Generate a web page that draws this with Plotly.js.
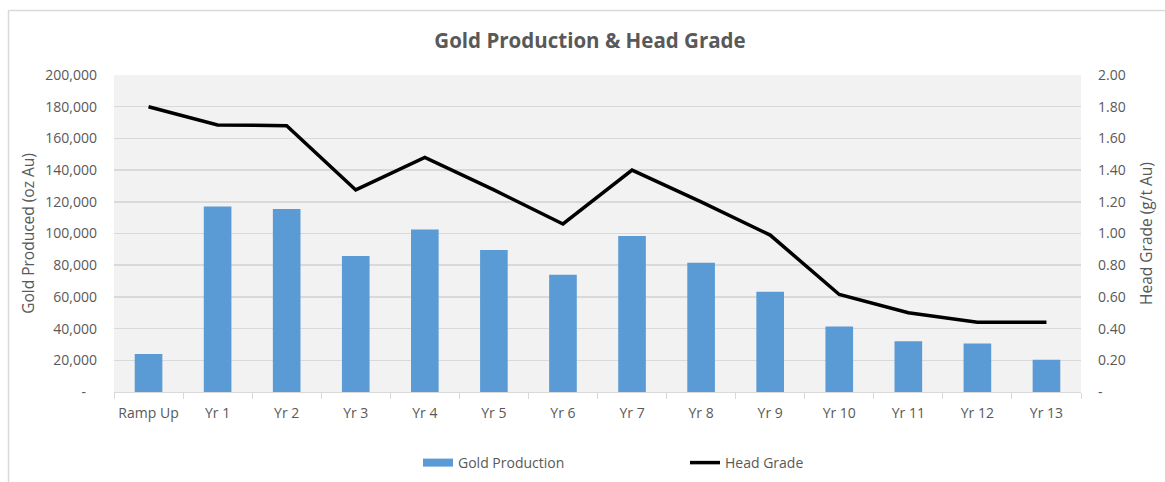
<!DOCTYPE html>
<html>
<head>
<meta charset="utf-8">
<script src="https://cdn.plot.ly/plotly-3.0.1.min.js"></script>
<style>
html,body{margin:0;padding:0;background:#fff;}
#chart{width:1165px;height:482px;}
</style>
</head>
<body>
<div id="chart"></div>
<script>
const categories = ["Ramp Up","Yr 1","Yr 2","Yr 3","Yr 4","Yr 5","Yr 6","Yr 7","Yr 8","Yr 9","Yr 10","Yr 11","Yr 12","Yr 13"];
const goldProduction = [24000,117000,115500,85800,102500,89600,74000,98400,81600,63300,41300,32000,30600,20300];
const headGrade = [1.80,1.685,1.68,1.275,1.48,1.275,1.06,1.40,1.20,0.99,0.615,0.50,0.44,0.44];
const leftTicks = [0,20000,40000,60000,80000,100000,120000,140000,160000,180000,200000];
const leftTickText = ["-\u00a0\u00a0\u00a0","20,000","40,000","60,000","80,000","100,000","120,000","140,000","160,000","180,000","200,000"];
const rightTicks = [0,0.2,0.4,0.6,0.8,1.0,1.2,1.4,1.6,1.8,2.0];
const rightTickText = ["-","0.20","0.40","0.60","0.80","1.00","1.20","1.40","1.60","1.80","2.00"];

const font = "Open Sans, Liberation Sans, sans-serif";
const grey = "#595959";
const barColor = "#5b9bd5";

const data = [
  {type:"bar", name:"Gold Production", x:categories, y:goldProduction,
   marker:{color:barColor}, yaxis:"y", showlegend:false},
  {type:"scatter", mode:"lines", name:"Gold Production", x:[categories[0]], y:[null],
   line:{color:barColor, width:8}, yaxis:"y", showlegend:true, hoverinfo:"skip"},
  {type:"scatter", mode:"lines", name:"Head Grade", x:categories, y:headGrade,
   line:{color:"#000000", width:3.5}, yaxis:"y2"}
];

const plotL = 114, plotR = 1081, W = 1165, H = 482, plotT = 75, plotB = 392;
const pw = plotR - plotL, ph = plotB - plotT;
function px(x){return (x-plotL)/pw;}
function py(y){return (plotB-y)/ph;}

const layout = {
  width:W, height:H,
  margin:{l:plotL, r:W-plotR, t:plotT, b:H-plotB, pad:0, autoexpand:false},
  paper_bgcolor:"#ffffff",
  plot_bgcolor:"#f2f2f2",
  font:{family:font, color:grey, size:14},
  title:{text:"<b>Gold Production & Head Grade</b>", font:{family:font, size:20.5, color:grey},
         x:590/W, xanchor:"center", y:1-41/H, yanchor:"middle"},
  bargap:0.6,
  showlegend:true,
  legend:{orientation:"h", xref:"container", yref:"container", x:418/W, xanchor:"left",
          y:1-463/H, yanchor:"middle",
          font:{family:font, size:14, color:grey}, entrywidth:222, entrywidthmode:"pixels",
          bgcolor:"rgba(0,0,0,0)", traceorder:"normal"},
  xaxis:{type:"category", tickson:"boundaries", ticks:"outside", ticklen:6, tickcolor:"#d9d9d9",
         showline:true, linecolor:"#d9d9d9", linewidth:1, showgrid:false, automargin:false,
         tickangle:0, ticklabelstandoff:8, tickfont:{family:font, size:14, color:grey}, fixedrange:true},
  yaxis:{range:[0,200000], tickvals:leftTicks, ticktext:leftTickText, showgrid:true, automargin:false,
         gridcolor:"#d9d9d9", gridwidth:1.5, zeroline:false, ticks:"", ticklabelstandoff:16,
         tickfont:{family:font, size:14, color:grey},
         title:{text:"Gold Produced (oz Au)", font:{family:font, size:15.5, color:grey}, standoff:6}},
  yaxis2:{range:[0,2], overlaying:"y", side:"right", tickvals:rightTicks, ticktext:rightTickText,
          showgrid:false, zeroline:false, ticks:"", ticklabelstandoff:16, automargin:false,
          tickfont:{family:font, size:14, color:grey},
          title:{text:"Head Grade (g/t Au)", font:{family:font, size:15.5, color:grey}, standoff:16}},
  shapes:[
    {type:"line", xref:"paper", yref:"paper", x0:px(8.5), x1:px(8.5), y0:py(482), y1:py(10.5),
     line:{color:"#d9d9d9", width:1.5}, layer:"below"},
    {type:"line", xref:"paper", yref:"paper", x0:px(8.5), x1:px(1165), y0:py(10.5), y1:py(10.5),
     line:{color:"#d9d9d9", width:1.5}, layer:"below"}
  ]
};

Plotly.newPlot("chart", data, layout, {displayModeBar:false, staticPlot:true});
</script>
</body>
</html>
